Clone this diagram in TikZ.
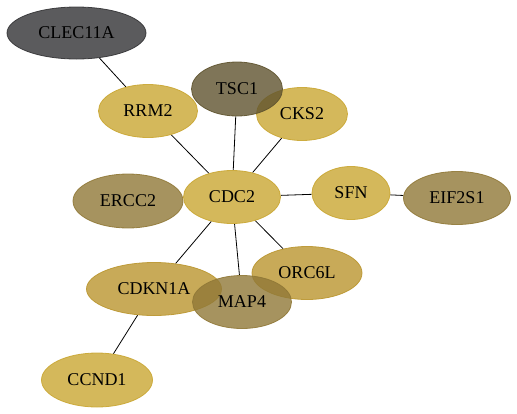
\documentclass[tikz,border=0pt]{standalone}
\usepackage{fontspec}
\setmainfont{Liberation Serif}
\usepackage{tikz}
\usetikzlibrary{shapes.geometric,backgrounds}
\definecolor{gold}{HTML}{C9A632}
\definecolor{goldmid}{HTML}{BA952E}
\definecolor{olive}{HTML}{907837}
\definecolor{darkolive}{HTML}{5F532E}
\definecolor{slate}{HTML}{323234}

\begin{document}
\begin{tikzpicture}[x=1pt, y=-1pt, every node/.style={font=\fontsize{18}{20}\selectfont}, gene/.style={ellipse, draw=#1, fill=#1, fill opacity=0.8, draw opacity=0.9, text opacity=1, line width=0.8pt, inner sep=0pt, minimum height=53pt}, edge/.style={black, line width=0.8pt}]
\useasboundingbox (0,0) rectangle (517,413);
% genes
\node[gene=slate, minimum width=139pt, minimum height=52pt] (clec) at (76.5,33) {CLEC11A};
\node[gene=gold, minimum width=99pt] (rrm) at (148,111) {RRM2};
\node[gene=gold, minimum width=91pt] (cks) at (302,114) {CKS2};
\node[gene=darkolive, minimum width=91pt, minimum height=54pt] (tsc) at (237,89) {TSC1};
\node[gene=olive, minimum width=110pt, minimum height=54pt] (ercc) at (128,201) {ERCC2};
\node[gene=gold, minimum width=97pt] (cdc) at (232,197) {CDC2};
\node[gene=gold, minimum width=78pt] (sfn) at (351,193) {SFN};
\node[gene=olive, minimum width=107pt] (eif) at (457,198) {EIF2S1};
\node[gene=goldmid, minimum width=110pt] (orc) at (307,273) {ORC6L};
\node[gene=goldmid, minimum width=135pt] (cdkn) at (154,289) {CDKN1A};
\node[gene=olive, minimum width=99pt] (map) at (242,302) {MAP4};
\node[gene=gold, minimum width=111pt, minimum height=54pt] (ccnd) at (97,380) {CCND1};
% links, under the genes
\begin{scope}[on background layer]
\draw[edge] (clec)--(rrm);
\draw[edge] (rrm)--(cdc);
\draw[edge] (tsc)--(cdc);
\draw[edge] (cks)--(cdc);
\draw[edge] (cdc)--(sfn);
\draw[edge] (sfn)--(eif);
\draw[edge] (cdc)--(cdkn);
\draw[edge] (cdc)--(map);
\draw[edge] (cdc)--(orc);
\draw[edge] (cdkn)--(ccnd);
\end{scope}
\end{tikzpicture}
\end{document}
